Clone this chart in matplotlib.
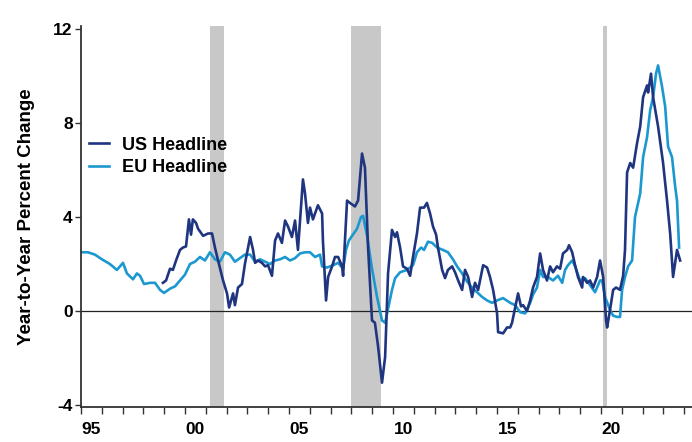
import matplotlib.pyplot as plt
import numpy as np

plt.rcParams['font.family'] = ['Liberation Sans', 'DejaVu Sans']

# EU headline inflation (year, % y/y)
eu_years = [1995.00, 1995.34, 1995.67, 1996.01, 1996.39, 1996.73, 1997.02, 1997.21, 1997.50, 1997.69,
            1997.84, 1998.03, 1998.32, 1998.56, 1998.80, 1998.99, 1999.28, 1999.52, 1999.76, 2000.00,
            2000.24, 2000.48, 2000.72, 2000.96, 2001.20, 2001.44, 2001.68, 2001.92, 2002.16, 2002.40,
            2002.64, 2002.88, 2003.13, 2003.37, 2003.61, 2003.85, 2004.09, 2004.33, 2004.57, 2004.81,
            2005.05, 2005.29, 2005.53, 2005.77, 2006.01, 2006.25, 2006.49, 2006.59, 2006.83, 2007.12,
            2007.36, 2007.60, 2007.74, 2007.88, 2008.03, 2008.27, 2008.46, 2008.56, 2008.75, 2008.99,
            2009.23, 2009.47, 2009.62, 2009.76, 2009.95, 2010.10, 2010.34, 2010.67, 2010.96, 2011.15,
            2011.35, 2011.49, 2011.68, 2011.88, 2012.12, 2012.40, 2012.64, 2012.88, 2013.08, 2013.32,
            2013.56, 2013.80, 2014.04, 2014.28, 2014.52, 2014.76, 2015.00, 2015.29, 2015.63, 2015.87,
            2016.11, 2016.35, 2016.59, 2016.73, 2016.92, 2017.07, 2017.21, 2017.45, 2017.69, 2017.93,
            2018.13, 2018.27, 2018.41, 2018.61, 2018.75, 2018.99, 2019.23, 2019.47, 2019.71, 2019.95,
            2020.05, 2020.19, 2020.43, 2020.58, 2020.77, 2020.91, 2021.01, 2021.15, 2021.30, 2021.49,
            2021.63, 2021.88, 2022.02, 2022.21, 2022.36, 2022.50, 2022.64, 2022.74, 2022.93, 2023.08,
            2023.22, 2023.41, 2023.56, 2023.65, 2023.75]
eu_values = [2.5, 2.5, 2.4, 2.2, 2.0, 1.75, 2.05, 1.6, 1.35, 1.6,
             1.5, 1.15, 1.2, 1.2, 0.9, 0.77, 0.95, 1.05, 1.3, 1.55,
             2.0, 2.1, 2.3, 2.15, 2.5, 2.2, 2.1, 2.5, 2.4, 2.1,
             2.25, 2.4, 2.4, 2.1, 2.2, 2.1, 2.0, 2.15, 2.2, 2.3,
             2.15, 2.25, 2.45, 2.5, 2.5, 2.3, 2.4, 1.9, 1.85, 1.95,
             2.05, 1.8, 2.6, 3.0, 3.2, 3.5, 4.0, 4.05, 3.2, 1.8,
             0.6, -0.4, -0.5, 0.1, 0.9, 1.4, 1.65, 1.75, 1.95, 2.5,
             2.7, 2.6, 2.95, 2.9, 2.7, 2.6, 2.5, 2.2, 1.9, 1.6,
             1.25, 1.0, 0.8, 0.6, 0.45, 0.35, 0.45, 0.55, 0.35, 0.25,
             -0.05, -0.1, 0.35, 0.7, 1.0, 1.75, 1.45, 1.45, 1.3, 1.5,
             1.2, 1.75, 1.95, 2.15, 1.9, 1.3, 1.4, 1.1, 0.8, 1.3,
             1.3, 0.6, 0.05, -0.2, -0.25, -0.25, 0.9, 1.45, 1.9, 2.15,
             4.0, 5.0, 6.55, 7.4, 8.55, 9.1, 10.1, 10.45, 9.55, 8.7,
             7.0, 6.55, 5.3, 4.7, 2.7]

# US headline inflation
us_years = [1998.94, 1999.09, 1999.28, 1999.42, 1999.57, 1999.76, 1999.90, 2000.05, 2000.19, 2000.29,
            2000.38, 2000.53, 2000.63, 2000.87, 2001.11, 2001.30, 2001.44, 2001.59, 2001.83, 2002.02,
            2002.12, 2002.31, 2002.40, 2002.55, 2002.74, 2002.88, 2003.13, 2003.27, 2003.37, 2003.51,
            2003.70, 2003.85, 2003.99, 2004.18, 2004.33, 2004.47, 2004.66, 2004.81, 2004.95, 2005.14,
            2005.29, 2005.43, 2005.67, 2005.77, 2005.91, 2006.01, 2006.15, 2006.39, 2006.59, 2006.63,
            2006.78, 2006.88, 2007.07, 2007.21, 2007.36, 2007.55, 2007.60, 2007.79, 2007.93, 2008.17,
            2008.32, 2008.51, 2008.65, 2008.80, 2008.99, 2009.13, 2009.28, 2009.47, 2009.62, 2009.76,
            2009.95, 2010.10, 2010.19, 2010.34, 2010.48, 2010.67, 2010.82, 2010.96, 2011.15, 2011.30,
            2011.49, 2011.63, 2011.78, 2011.92, 2012.07, 2012.16, 2012.36, 2012.50, 2012.64, 2012.84,
            2012.98, 2013.13, 2013.32, 2013.46, 2013.61, 2013.80, 2013.94, 2014.09, 2014.33, 2014.52,
            2014.66, 2014.81, 2015.00, 2015.05, 2015.29, 2015.48, 2015.63, 2015.72, 2015.87, 2016.01,
            2016.15, 2016.25, 2016.44, 2016.59, 2016.73, 2016.92, 2017.07, 2017.21, 2017.40, 2017.55,
            2017.69, 2017.88, 2018.03, 2018.17, 2018.37, 2018.46, 2018.61, 2018.75, 2018.89, 2019.09,
            2019.13, 2019.33, 2019.47, 2019.62, 2019.81, 2019.95, 2020.10, 2020.24, 2020.29, 2020.43,
            2020.58, 2020.72, 2020.91, 2021.06, 2021.15, 2021.25, 2021.40, 2021.54, 2021.73, 2021.88,
            2022.02, 2022.21, 2022.26, 2022.40, 2022.50, 2022.74, 2022.98, 2023.17, 2023.32, 2023.46,
            2023.56, 2023.65, 2023.80]
us_values = [1.2, 1.3, 1.8, 1.75, 2.15, 2.6, 2.7, 2.75, 3.9, 3.25,
             3.9, 3.75, 3.5, 3.2, 3.3, 3.3, 2.7, 2.15, 1.3, 0.75,
             0.15, 0.75, 0.25, 1.0, 1.15, 2.0, 3.15, 2.6, 2.05, 2.15,
             2.05, 1.9, 1.95, 1.5, 3.0, 3.3, 2.9, 3.85, 3.6, 3.15,
             3.85, 2.6, 5.6, 5.0, 3.75, 4.4, 3.9, 4.5, 4.15, 3.0,
             0.45, 1.45, 1.9, 2.3, 2.3, 1.9, 1.5, 4.7, 4.6, 4.45,
             4.7, 6.7, 6.1, 2.7, -0.4, -0.5, -1.5, -3.05, -1.95, 1.6,
             3.45, 3.15, 3.35, 2.7, 1.9, 1.8, 1.5, 2.3, 3.3, 4.4,
             4.4, 4.6, 4.15, 3.6, 3.25, 2.7, 1.75, 1.4, 1.75, 1.9,
             1.65, 1.3, 0.9, 1.75, 1.45, 0.6, 1.2, 0.9, 1.95, 1.85,
             1.45, 0.9, -0.1, -0.9, -0.95, -0.7, -0.7, -0.5, 0.15, 0.75,
             0.2, 0.25, 0.0, 0.45, 1.0, 1.45, 2.45, 1.75, 1.3, 1.9,
             1.65, 1.9, 1.8, 2.45, 2.6, 2.8, 2.5, 1.95, 1.45, 1.0,
             1.45, 1.2, 1.3, 1.0, 1.45, 2.15, 1.45, -0.4, -0.7, 0.05,
             0.9, 1.0, 0.9, 1.5, 2.6, 5.9, 6.3, 6.1, 7.15, 7.85,
             9.1, 9.6, 9.3, 10.1, 9.1, 7.85, 6.3, 4.7, 3.3, 1.45,
             2.05, 2.6, 2.15]

# recession periods
recessions = [(2001.2, 2001.87), (2007.98, 2009.42), (2020.1, 2020.27)]

year_ticks = list(range(1995, 2025))
label_years = [1995, 2000, 2005, 2010, 2015, 2020]
tick_labels = ['95', '00', '05', '10', '15', '20']

fig = plt.figure(figsize=(6.92, 4.42), dpi=100)
ax = fig.add_axes([0.117, 0.0794, 0.883, 0.8613])

for start, end in recessions:
    ax.axvspan(start, end, color='#c8c8c8', lw=0, zorder=0)

ax.axhline(0, color='#222222', lw=0.9, zorder=1)

ax.plot(us_years, us_values, color='#1f3580', lw=1.9, label='US Headline', zorder=3)
ax.plot(eu_years, eu_values, color='#1c98d0', lw=1.9, label='EU Headline', zorder=2)

ax.set_xlim(1995, 2024.37)
ax.set_ylim(-4.08, 12.12)

ax.set_yticks([-4, 0, 4, 8, 12])
ax.set_yticklabels(['-4', '0', '4', '8', '12'], fontweight='bold', fontsize=12.5)
ax.tick_params(axis='y', direction='out', length=4, width=1, color='#333333', pad=2)

ax.set_xticks(year_ticks)
ax.set_xticklabels([])
ax.tick_params(axis='x', which='major', direction='out', length=5, width=1, color='#333333')
ax.set_xticks([y + 0.5 for y in label_years], minor=True)
ax.set_xticklabels(tick_labels, minor=True, fontweight='bold', fontsize=12.5)
ax.tick_params(axis='x', which='minor', length=0, pad=11)

for side in ['top', 'right']:
    ax.spines[side].set_visible(False)
for side in ['left', 'bottom']:
    ax.spines[side].set_color('#333333')
    ax.spines[side].set_linewidth(1.3)

ax.set_ylabel('Year-to-Year Percent Change', fontweight='bold', fontsize=13.5, labelpad=13)

leg = ax.legend(loc='upper left', bbox_to_anchor=(-0.005, 0.738), frameon=False,
                prop={'weight': 'bold', 'size': 13}, handlelength=1.1,
                handletextpad=0.75, labelspacing=0.3, borderaxespad=0.2)

fig.savefig('out.png', dpi=100)
